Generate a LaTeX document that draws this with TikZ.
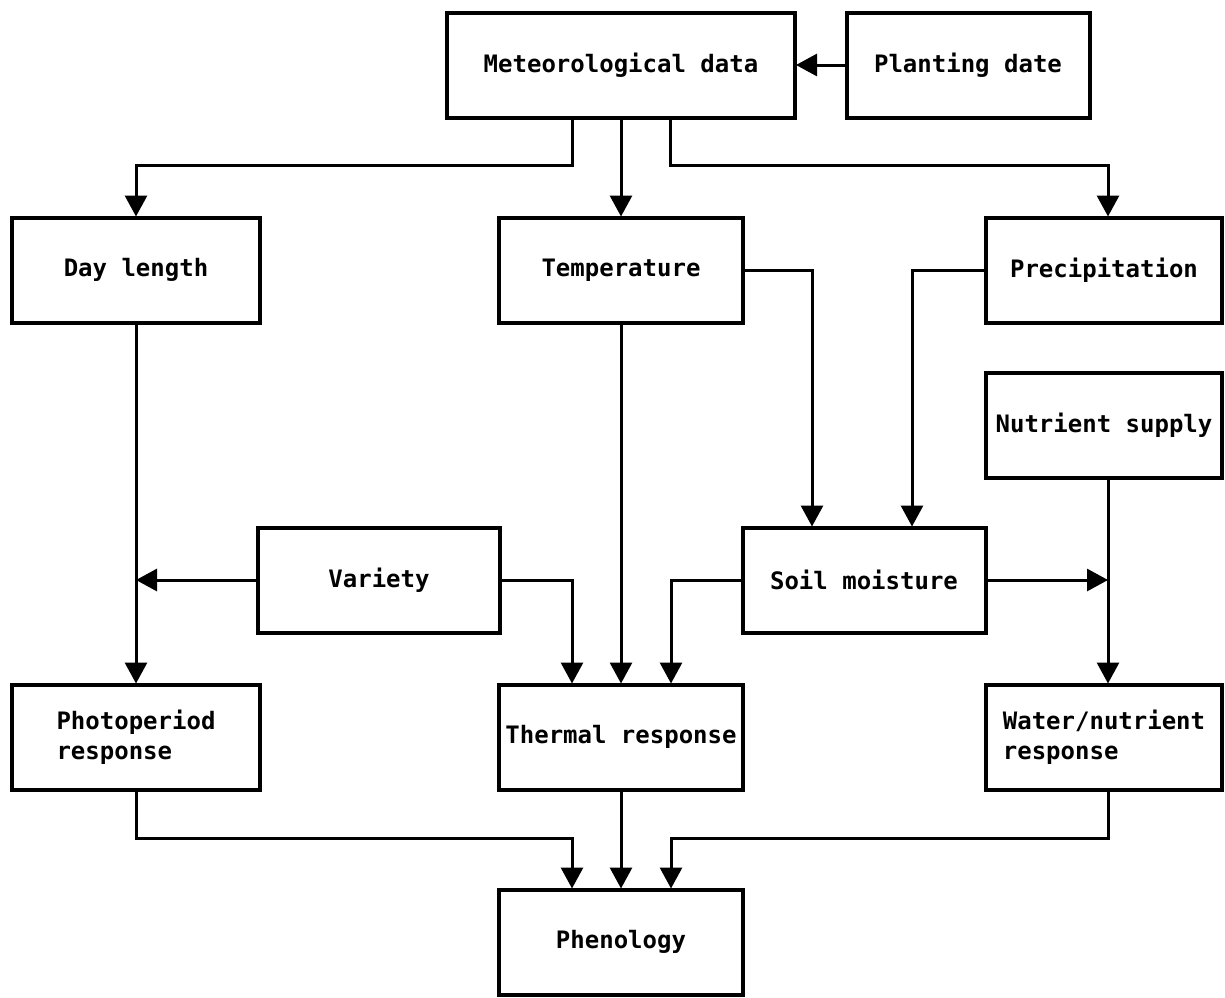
\documentclass[tikz,border=0pt]{standalone}
\usepackage{fontspec}
\setmonofont{DejaVu Sans Mono}
\usetikzlibrary{arrows.meta}

\begin{document}
\begin{tikzpicture}[x=0.5pt, y=-0.5pt,
     box/.style={shape=rectangle, draw=black, line width=2pt, minimum width=122pt, minimum height=52.5pt,
                 align=left, font=\ttfamily\bfseries\fontsize{12}{15}\selectfont, inner sep=2pt, outer sep=0.5pt},
     wire/.style={draw=black, line width=1.5pt},
     arr/.style={wire, -{Triangle[length=10.5pt, width=11pt]}}]
     \useasboundingbox (0,0) rectangle (1225,997);
     \path (621, 65) node (met) [box, minimum width=174pt] {Meteorological data}
           (968, 65) node (plant) [box, minimum width=121.5pt] {Planting date}
           (136, 270) node (day) [box, minimum width=124pt] {Day length}
           (621, 270) node (temp) [box] {Temperature}
           (1104, 270) node (precip) [box, minimum width=118pt] {Precipitation}
           (1104, 425) node (nutr) [box, minimum width=118pt] {Nutrient supply}
           (379, 580) node (variety) [box, minimum width=121pt] {Variety}
           (864, 580) node (soil) [box, minimum width=121.5pt] {Soil moisture}
           (136, 737) node (photo) [box, minimum width=124pt] {Photoperiod\\response}
           (621, 737) node (thermal) [box] {Thermal response}
           (1104, 737) node (water) [box, minimum width=118pt] {Water/nutrient\\response}
           (621, 942) node (pheno) [box] {Phenology}
     ;
     % from the top box
     \draw [arr] (plant) -- (met);
     \draw [arr] ([xshift=-24.5pt]met.south) -- ++(0,47) -| (day);
     \draw [arr] (met) -- (temp);
     \draw [arr] ([xshift=24.5pt]met.south) -- ++(0,47) -| ([xshift=2pt]precip.north);
     % into soil moisture
     \draw [arr] (temp.east) -| ([xshift=-26pt]soil.north);
     \draw [arr] (precip.west) -| ([xshift=24pt]soil.north);
     % side inputs
     \draw [arr] (day) -- (photo);
     \draw [arr] (variety.west) -- (variety.west -| day.south);
     \draw [arr] (variety.east) -| ([xshift=-24.5pt]thermal.north);
     \draw [arr] (temp) -- (thermal);
     \draw [arr] (soil.west) -| ([xshift=25pt]thermal.north);
     \draw [arr] (soil.east) -- ([xshift=2pt]soil.east -| nutr.south);
     \draw [arr] ([xshift=2pt]nutr.south) -- ([xshift=2pt]water.north);
     % down to phenology
     \draw [arr] (photo.south) -- ++(0,48) -| ([xshift=-24.5pt]pheno.north);
     \draw [arr] (thermal) -- (pheno);
     \draw [arr] ([xshift=2pt]water.south) -- ++(0,48) -| ([xshift=25pt]pheno.north);
\end{tikzpicture}
\end{document}
